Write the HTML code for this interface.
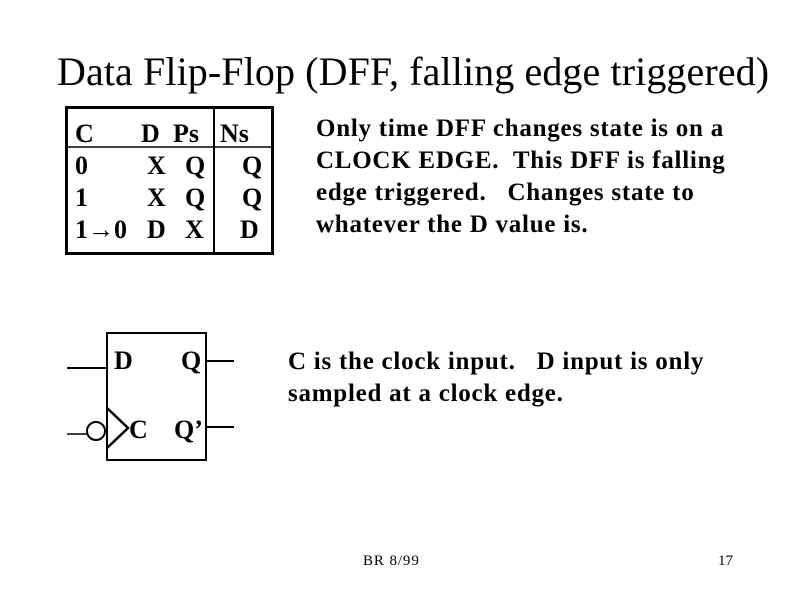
<!DOCTYPE html>
<html><head><style>
body{margin:0;background:#fff;}
.p{position:relative;width:800px;height:600px;overflow:hidden;font-family:"Liberation Serif",serif;color:#000;}
.t{position:absolute;white-space:nowrap;}
.b{font-weight:bold;font-size:25px;line-height:32px;letter-spacing:0.75px;}
</style></head><body><div class="p">
<div class="t" style="left:57px;top:48px;font-size:40px;letter-spacing:0.1px;">Data Flip-Flop (DFF, falling edge triggered)</div>
<svg width="800" height="600" style="position:absolute;left:0;top:0">
<rect x="66.5" y="107.5" width="206" height="146" fill="none" stroke="#000" stroke-width="3"/>
<line x1="214" y1="108" x2="214" y2="253" stroke="#000" stroke-width="2"/>
<line x1="66" y1="147" x2="272" y2="147" stroke="#000" stroke-width="1.5"/>
<rect x="107" y="333" width="99" height="127" fill="none" stroke="#000" stroke-width="2"/>
<line x1="67" y1="368" x2="107" y2="368" stroke="#000" stroke-width="2"/>
<line x1="206" y1="361" x2="234" y2="361" stroke="#000" stroke-width="2"/>
<line x1="206" y1="427" x2="234" y2="427" stroke="#000" stroke-width="2"/>
<line x1="67" y1="434" x2="87" y2="434" stroke="#000" stroke-width="1.5"/>
<circle cx="96" cy="431" r="9" fill="none" stroke="#000" stroke-width="2"/>
<polyline points="107,408 128,428 107,448" fill="none" stroke="#000" stroke-width="2.5"/>
<g font-family="Liberation Serif" font-weight="bold" font-size="26">
<text x="75" y="142">C</text><text x="141" y="142">D</text><text x="173" y="142">Ps</text><text x="220" y="142">Ns</text>
<text x="75" y="174">0</text><text x="147" y="174">X</text><text x="185" y="174">Q</text><text x="242" y="174">Q</text>
<text x="75" y="206">1</text><text x="147" y="206">X</text><text x="185" y="206">Q</text><text x="242" y="206">Q</text>
<text x="75" y="238">1→0</text><text x="147" y="238">D</text><text x="185" y="238">X</text><text x="240" y="238">D</text>
<text x="114" y="369">D</text><text x="181" y="369">Q</text>
<text x="129" y="438">C</text><text x="174" y="438">Q’</text>
</g>
</svg>
<div class="t b" style="left:316px;top:113px;">Only time DFF changes state is on a<br>CLOCK EDGE.&nbsp; This DFF is falling<br>edge triggered.&nbsp;&nbsp; Changes state to<br>whatever the D value is.</div>
<div class="t b" style="left:288px;top:346px;">C is the clock input.&nbsp;&nbsp; D input is only<br>sampled at a clock edge.</div>
<div class="t" style="left:363px;top:553px;font-size:15px;letter-spacing:0.9px;">BR 8/99</div>
<div class="t" style="left:718px;top:553px;font-size:15px;">17</div>
</div></body></html>
